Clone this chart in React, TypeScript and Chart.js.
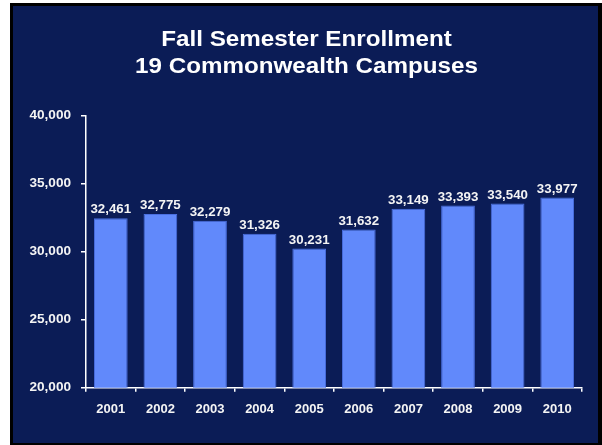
import React, { useEffect, useRef } from "react";
import { Chart, registerables } from "chart.js";

Chart.register(...registerables);

const years = ["2001", "2002", "2003", "2004", "2005", "2006", "2007", "2008", "2009", "2010"];
const enrollment = [32461, 32775, 32279, 31326, 30231, 31632, 33149, 33393, 33540, 33977];
const titleLines = ["Fall Semester Enrollment", "19 Commonwealth Campuses"];
const yMin = 20000;
const yMax = 40000;
const yStep = 5000;

const NAVY = "#0b1c56";
const BAR = "#6189fb";
const BAR_EDGE = "#4a6fe0";
const TEXT = "#f4f4f4";
const FONT = "'Liberation Sans', Arial, sans-serif";

const fmt = (v: number) => v.toLocaleString("en-US");

const valueLabels = {
  id: "valueLabels",
  afterDatasetsDraw(chart: any) {
    const ctx = chart.ctx;
    const meta = chart.getDatasetMeta(0);
    ctx.save();
    ctx.fillStyle = TEXT;
    ctx.font = `bold 13.3px ${FONT}`;
    ctx.textAlign = "center";
    ctx.textBaseline = "alphabetic";
    meta.data.forEach((bar: any, i: number) => {
      ctx.fillText(fmt(enrollment[i]), bar.x, bar.y - 5);
    });
    ctx.restore();
  },
};

const wideTitle = {
  id: "wideTitle",
  afterDraw(chart: any) {
    const ctx = chart.ctx;
    const cx = chart.width / 2;
    const baselines = [40, 67.3];
    ctx.save();
    ctx.fillStyle = "#ffffff";
    ctx.font = `bold 22px ${FONT}`;
    ctx.textAlign = "center";
    ctx.textBaseline = "alphabetic";
    titleLines.forEach((line, i) => {
      ctx.save();
      ctx.translate(cx + 1, baselines[i]);
      ctx.scale(1.1, 1);
      ctx.fillText(line, 0, 0);
      ctx.restore();
    });
    ctx.restore();
  },
};

export default function App() {
  const ref = useRef<HTMLCanvasElement | null>(null);

  useEffect(() => {
    if (!ref.current) return;
    const chart = new Chart(ref.current, {
      type: "bar",
      data: {
        labels: years,
        datasets: [
          {
            data: enrollment,
            backgroundColor: BAR,
            borderColor: BAR_EDGE,
            borderWidth: 1,
            categoryPercentage: 1,
            barPercentage: 0.68,
          },
        ],
      },
      options: {
        responsive: false,
        animation: false,
        devicePixelRatio: 1,
        layout: { padding: { left: 0, right: 16, top: 109.7, bottom: 0 } },
        plugins: {
          legend: { display: false },
          tooltip: { enabled: false },
          title: { display: false },
        },
        scales: {
          x: {
            grid: {
              display: true,
              drawOnChartArea: false,
              drawTicks: true,
              tickLength: 4,
              color: "#ffffff",
              lineWidth: 1.5,
            },
            border: { display: true, color: "#ffffff", width: 1.5 },
            ticks: {
              color: TEXT,
              padding: 10,
              font: { family: FONT, size: 13, weight: "bold" },
              maxRotation: 0,
            },
            afterFit: (scale: any) => {
              scale.height = 55.3;
            },
          },
          y: {
            min: yMin,
            max: yMax,
            grid: {
              display: true,
              drawOnChartArea: false,
              drawTicks: true,
              tickLength: 5,
              color: "#ffffff",
              lineWidth: 1.5,
            },
            border: { display: true, color: "#ffffff", width: 1.5 },
            ticks: {
              stepSize: yStep,
              color: TEXT,
              padding: 10,
              font: { family: FONT, size: 13.6, weight: "bold" },
              callback: (v: any) => fmt(Number(v)),
            },
            afterFit: (scale: any) => {
              scale.width = 73;
            },
          },
        },
      },
      plugins: [valueLabels, wideTitle],
    });
    return () => chart.destroy();
  }, []);

  return (
    <div
      style={{
        position: "absolute",
        left: 10,
        top: 3,
        width: 592,
        height: 442,
        background: "#000000",
      }}
    >
      <div
        style={{
          position: "absolute",
          left: 3,
          top: 3,
          width: 585,
          height: 437,
          background: NAVY,
        }}
      >
        <canvas ref={ref} width={585} height={437} style={{ display: "block" }} />
      </div>
    </div>
  );
}
